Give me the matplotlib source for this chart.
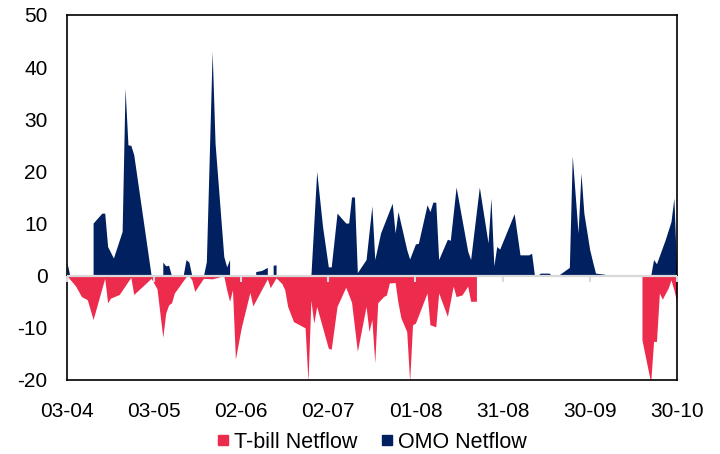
import matplotlib
matplotlib.use("Agg")
import matplotlib.pyplot as plt
import matplotlib.dates as mdates
import matplotlib.markers as mmarkers
from matplotlib.lines import Line2D
import numpy as np
import pandas as pd

plt.rcParams['font.family'] = ['Liberation Sans', 'DejaVu Sans']
plt.rcParams['axes.unicode_minus'] = False

start = pd.Timestamp('2023-04-03')

# OMO Netflow: day offset from 03-04, value
omo_day = [0, 1, 9, 9, 12, 13, 14, 16, 19, 20, 21, 22, 23, 29,
           33, 33, 34, 35, 36, 40, 41, 42, 43,
           47, 48, 50, 51, 54, 55, 56, 56,
           65, 65, 67, 69, 69, 71, 71, 72, 72,
           84, 86, 88, 90, 91, 93, 96, 97, 98, 99, 100, 103, 105, 106, 108,
           112, 113, 114, 117, 118, 120, 121, 124, 125, 126, 127, 128, 131, 132,
           134, 138, 139, 142, 145, 146, 147, 148, 149, 154, 156, 159, 160, 161,
           162, 163, 166, 167, 169, 173, 174, 176, 177, 178, 180, 181, 182, 185, 186,
           201, 202, 203, 206, 208, 209, 210]
omo_val = [2.5, 0, 0, 10.1, 12.0, 12.0, 5.6, 3.4, 8.5, 36.0, 25.1, 25.0, 23.2, 0,
           0, 2.6, 1.9, 2.0, 0, 0, 3.1, 2.6, 0,
           0, 2.7, 43.0, 25.4, 3.7, 1.7, 3.1, 0,
           0, 0.8, 1.0, 1.6, 0, 0, 2.0, 2.1, 0,
           0, 20.0, 9.5, 1.7, 1.7, 12.0, 10.1, 10.1, 15.1, 15.1, 0.6, 3.1, 13.4, 3.1, 8.2,
           13.9, 8.2, 12.3, 5.0, 3.2, 6.1, 6.2, 13.6, 12.3, 14.1, 14.1, 3.1, 7.0, 6.8,
           17.0, 4.7, 3.1, 17.0, 6.3, 14.9, 1.9, 5.6, 5.1, 11.9, 4.0, 4.0, 4.3, 0,
           0, 0.5, 0.5, 0, 0, 1.6, 23.0, 8.2, 19.7, 12.0, 5.0, 2.7, 0.5, 0.3, 0,
           0, 3.1, 2.3, 6.9, 10.4, 14.9, 0]

# T-bill Netflow
tbill_day = [0, 3, 5, 7, 9, 13, 14, 15, 18, 22, 23, 29, 30, 31, 33, 34, 35, 36, 37,
             41, 42, 43, 44, 47, 50, 54, 55, 56, 57, 58, 60, 63, 64, 69, 70, 72,
             74, 75, 76, 78, 82, 83, 84, 85, 86, 90, 91, 93, 96, 98, 100, 103, 104,
             105, 106, 107, 109, 110, 111, 113, 114, 115, 117, 118, 119, 120, 124,
             125, 127, 128, 131, 133, 134, 136, 138, 139, 141, 141,
             198, 198, 201, 202, 203, 204, 205, 207, 208, 209, 210]
tbill_val = [0, -2.0, -4.0, -4.6, -8.4, -0.5, -5.2, -4.3, -3.6, -0.3, -3.6, -0.5, -1.5,
             -2.5, -11.8, -7.2, -5.6, -5.2, -3.3,
             -0.2, 0, -0.8, -3.0, -0.5, -0.6, 0, -2.7, -4.9, -2.7, -16.0, -10.0, -3.2,
             -5.8, -0.6, -2.3, -0.4,
             -1.5, -2.7, -5.9, -8.8, -10.0, -20.3, -4.7, -9.1, -5.9, -13.9, -14.1, -5.9,
             -2.2, -5.1, -14.5, -5.9, -10.7,
             -8.4, -16.7, -5.2, -4.0, -3.7, -1.4, -1.3, -5.2, -8.1, -10.7, -20.3, -9.4,
             -9.1, -3.3,
             -9.4, -9.8, -3.3, -7.8, -2.0, -4.0, -3.7, -2.0, -4.9, -4.9, 0,
             0, -12.3, -20.5, -12.6, -12.6, -3.3, -4.5, -2.4, -0.8, -2.7, -5.1]

tick_days = [0, 30, 60, 90, 120, 150, 180, 210]
yticks = [-20, -10, 0, 10, 20, 30, 40, 50]

red = '#ED2B4D'
navy = '#00205F'

omo_dates = start + pd.to_timedelta(omo_day, unit='D')
tbill_dates = start + pd.to_timedelta(tbill_day, unit='D')
tick_dates = start + pd.to_timedelta(tick_days, unit='D')

fig = plt.figure(figsize=(7.2, 4.54), dpi=100)
ax = fig.add_axes([0.093, 0.163, 0.847, 0.804])

ax.fill_between(tbill_dates, 0, tbill_val, color=red, linewidth=0, zorder=2)
ax.fill_between(omo_dates, 0, omo_val, color=navy, linewidth=0, zorder=2)

# zero line with small ticks
ax.axhline(0, color='#d9d9d9', linewidth=1.6, zorder=3)
ax.plot(tick_dates, np.zeros(len(tick_dates)), linestyle='none',
        marker=mmarkers.TICKDOWN, markersize=4.5, markeredgewidth=1.5,
        color='#d9d9d9', zorder=3, clip_on=False)

ax.set_xlim(tick_dates[0], tick_dates[-1])
ax.set_ylim(-20, 50)
ax.set_xticks(tick_dates)
ax.xaxis.set_major_formatter(mdates.DateFormatter('%d-%m'))
ax.set_yticks(yticks)
ax.tick_params(axis='x', length=0, pad=15.5, labelsize=15)
ax.tick_params(axis='y', length=0, pad=14, labelsize=15)

for s in ax.spines.values():
    s.set_color('black')
    s.set_linewidth(1.2)

handles = [Line2D([], [], linestyle='none', marker='s', markersize=7.5, color=red),
           Line2D([], [], linestyle='none', marker='s', markersize=7.5, color=navy)]
ax.legend(handles, ['T-bill Netflow', 'OMO Netflow'], loc='center',
          bbox_to_anchor=(0.5, -0.17), ncol=2, frameon=False, fontsize=15.5,
          handlelength=0.6, handletextpad=0.2, columnspacing=1.1)

fig.savefig('out.png', dpi=100)
